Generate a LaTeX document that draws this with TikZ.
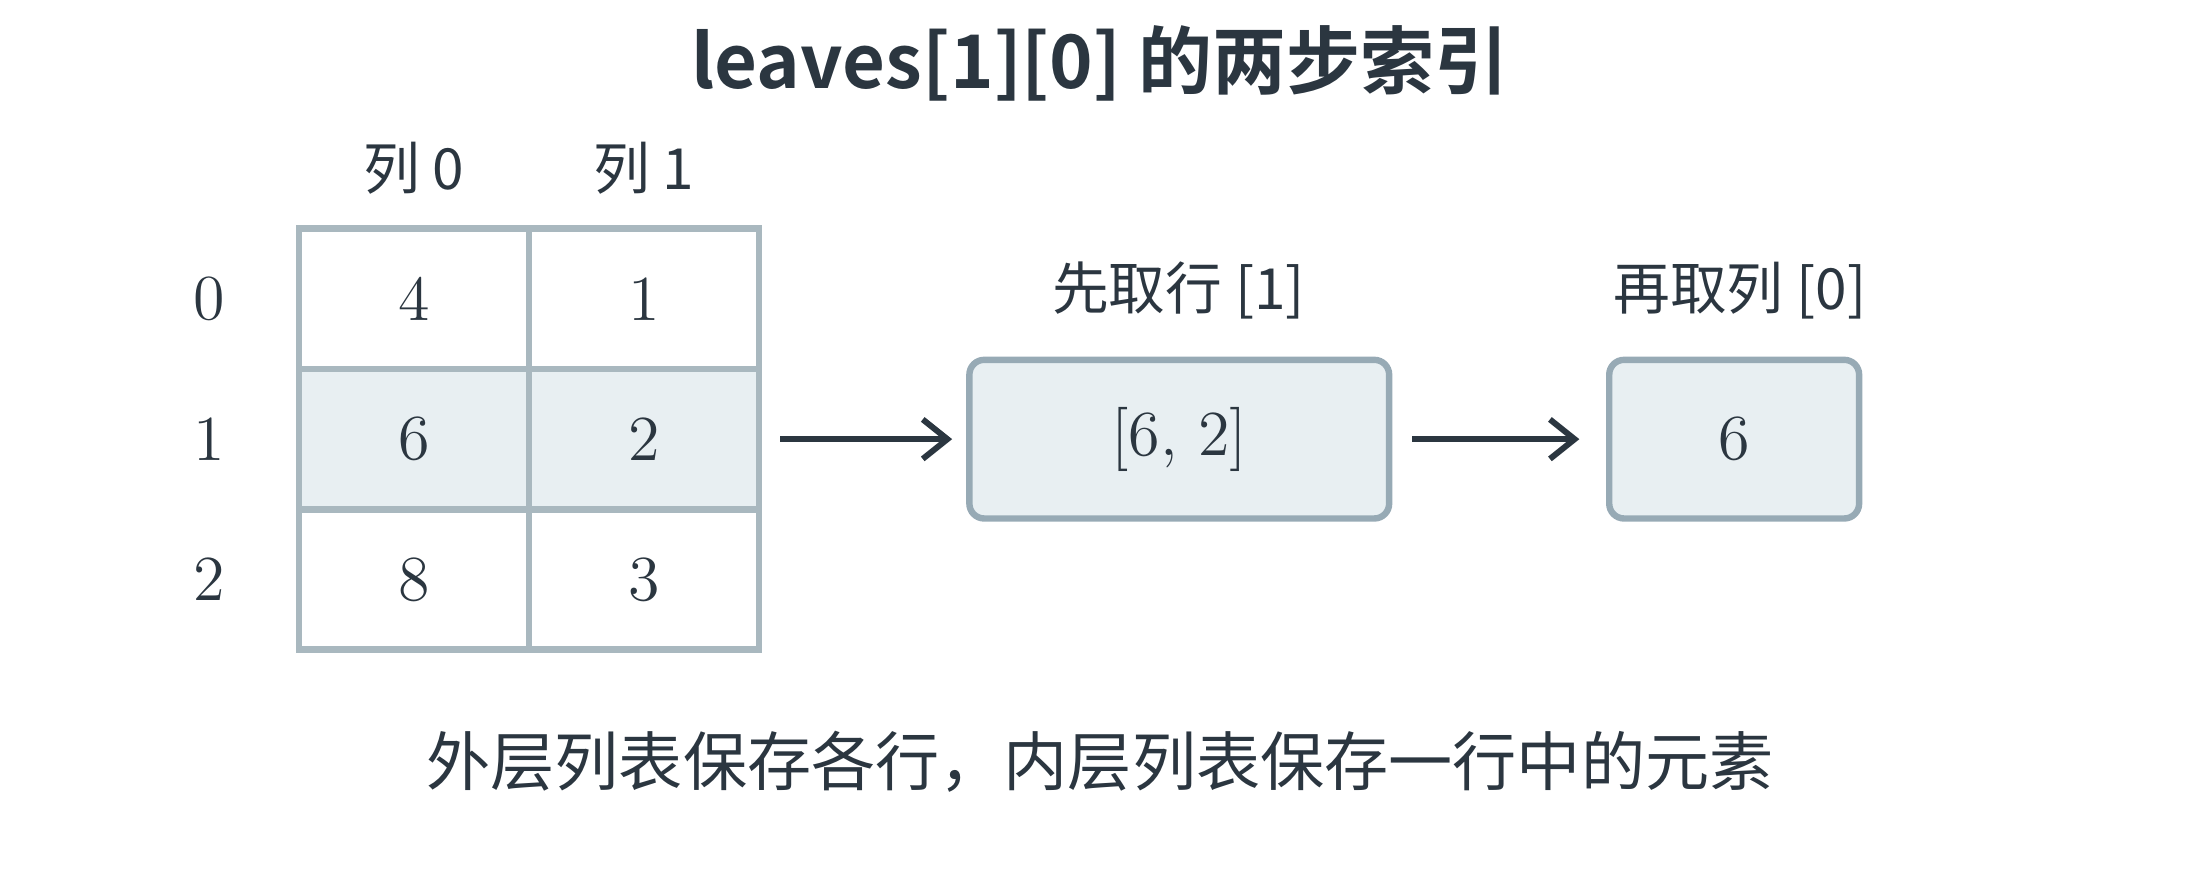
\documentclass[tikz,border=0pt]{standalone}
\usepackage{fontspec}
\newfontfamily\cjk{Noto Sans CJK SC}
\newfontfamily\cjkb{Noto Sans CJK SC Bold}
\usetikzlibrary{arrows.meta}
\definecolor{ink}{HTML}{2B3640}
\definecolor{edge}{HTML}{A9B8BF}
\definecolor{fillb}{HTML}{E8EFF2}
\definecolor{boxe}{HTML}{97AAB5}
\begin{document}
\begin{tikzpicture}[x=0.01cm,y=-0.01cm,
  cell/.style={draw=edge,line width=1.3pt,minimum width=1.64cm,minimum height=1cm,anchor=center,inner sep=0pt,font=\fontsize{13}{13}\selectfont,text=ink},
  lab/.style={text=ink,font=\fontsize{11.5}{12}\cjk\selectfont},
  num/.style={text=ink,font=\fontsize{13}{13}\selectfont},
  box/.style={draw=boxe,fill=fillb,line width=1.3pt,rounded corners=3pt,minimum height=1.13cm,text=ink,font=\fontsize{13}{13}\selectfont},
  arr/.style={draw=ink,line width=1.2pt,-{Straight Barb[length=5pt,width=8pt]}}]
\useasboundingbox (0,0) rectangle (1568,627);
\node[text=ink,font=\fontsize{15}{15}\cjkb\selectfont] (title) at (784,45) {leaves[1][0] 的两步索引};
\node[lab] (c0) at (295,120) {列 0};
\node[lab] (c1) at (459,120) {列 1};
\node[num] (r0) at (149,213) {0};
\node[num] (r1) at (149,313) {1};
\node[num] (r2) at (149,413) {2};
\node[cell] (a00) at (295,213) {4};
\node[cell] (a01) at (459,213) {1};
\node[cell,fill=fillb] (a10) at (295,313) {6};
\node[cell,fill=fillb] (a11) at (459,313) {2};
\node[cell] (a20) at (295,413) {8};
\node[cell] (a21) at (459,413) {3};
\coordinate (s1) at (556,313);
\node[box,minimum width=2.99cm] (b1) at (840.5,313) {[6, 2]};
\node[box,minimum width=1.78cm] (b2) at (1236,313) {6};
\node[lab] (l1) at (840,207) {先取行 [1]};
\node[lab] (l2) at (1240,207) {再取列 [0]};
\draw[arr] (s1) -- ([xshift=-0.1cm]b1.west);
\draw[arr] ([xshift=0.14cm]b1.east) -- ([xshift=-0.19cm]b2.west);
\node[text=ink,font=\fontsize{13}{14}\cjk\selectfont] (foot) at (784,543) {外层列表保存各行，内层列表保存一行中的元素};
\end{tikzpicture}
\end{document}
